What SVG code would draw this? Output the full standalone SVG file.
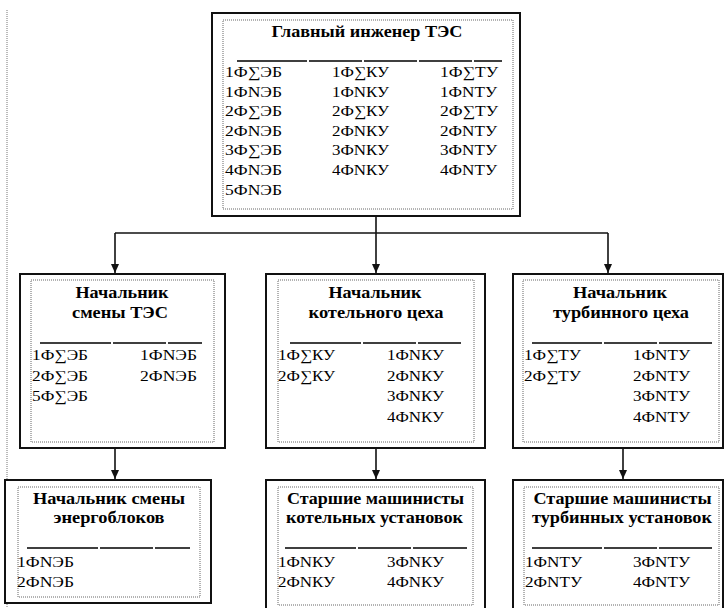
<svg xmlns="http://www.w3.org/2000/svg" width="727" height="608" viewBox="0 0 727 608" font-family="'Liberation Serif', 'Times New Roman', Times, serif">
<defs>
<style>
.box{fill:#fff;stroke:#111;stroke-width:2}
.inner{fill:none;stroke:#666;stroke-width:1;stroke-dasharray:1 1}
.t{font-weight:bold;font-size:16px;text-anchor:middle;fill:#000}
.d{font-size:15px;fill:#000}
.sep{fill:none;stroke:#000;stroke-width:1.3}
.conn{fill:none;stroke:#111;stroke-width:1.6}
.guide{fill:none;stroke:#777;stroke-width:1;stroke-dasharray:1 1}
</style>
<marker id="arr" markerUnits="userSpaceOnUse" markerWidth="10" markerHeight="10" refX="9" refY="5" orient="auto">
<path d="M0,1 L9,5 L0,9 Z" fill="#111"/>
</marker>
</defs>
<rect width="727" height="608" fill="#fff"/>
<line class="guide" x1="7" y1="10" x2="7" y2="608"/>

<g id="connectors">
<path class="conn" d="M376,216 V273" marker-end="url(#arr)"/>
<path class="conn" d="M115,233 H608"/>
<path class="conn" d="M115,233 V273" marker-end="url(#arr)"/>
<path class="conn" d="M608,233 V273" marker-end="url(#arr)"/>
<path class="conn" d="M115,448 V479" marker-end="url(#arr)"/>
<path class="conn" d="M376,448 V479" marker-end="url(#arr)"/>
<path class="conn" d="M623,448 V479" marker-end="url(#arr)"/>
</g>

<g id="chief">
<rect class="box" x="212" y="13" width="308" height="203"/>
<rect class="inner" x="223" y="20" width="290" height="189"/>
<text class="t" x="367" y="37" textLength="191" lengthAdjust="spacingAndGlyphs">Главный инженер ТЭС</text>
<path class="sep" d="M237,61 H307 M309,61 H362 M364,61 H417 M419,61 H472 M474,61 H502"/>
<g class="d">
<text x="225" y="77" textLength="57" lengthAdjust="spacingAndGlyphs">1Ф∑ЭБ</text>
<text x="225" y="97" textLength="57" lengthAdjust="spacingAndGlyphs">1ФNЭБ</text>
<text x="225" y="116" textLength="57" lengthAdjust="spacingAndGlyphs">2Ф∑ЭБ</text>
<text x="225" y="136" textLength="57" lengthAdjust="spacingAndGlyphs">2ФNЭБ</text>
<text x="225" y="155" textLength="57" lengthAdjust="spacingAndGlyphs">3Ф∑ЭБ</text>
<text x="225" y="175" textLength="57" lengthAdjust="spacingAndGlyphs">4ФNЭБ</text>
<text x="225" y="195" textLength="57" lengthAdjust="spacingAndGlyphs">5ФNЭБ</text>
<text x="332" y="77" textLength="57" lengthAdjust="spacingAndGlyphs">1Ф∑КУ</text>
<text x="332" y="97" textLength="57" lengthAdjust="spacingAndGlyphs">1ФNКУ</text>
<text x="332" y="116" textLength="57" lengthAdjust="spacingAndGlyphs">2Ф∑КУ</text>
<text x="332" y="136" textLength="57" lengthAdjust="spacingAndGlyphs">2ФNКУ</text>
<text x="332" y="155" textLength="57" lengthAdjust="spacingAndGlyphs">3ФNКУ</text>
<text x="332" y="175" textLength="57" lengthAdjust="spacingAndGlyphs">4ФNКУ</text>
<text x="440" y="77" textLength="58" lengthAdjust="spacingAndGlyphs">1Ф∑ТУ</text>
<text x="440" y="97" textLength="57" lengthAdjust="spacingAndGlyphs">1ФNТУ</text>
<text x="440" y="116" textLength="58" lengthAdjust="spacingAndGlyphs">2Ф∑ТУ</text>
<text x="440" y="136" textLength="57" lengthAdjust="spacingAndGlyphs">2ФNТУ</text>
<text x="440" y="155" textLength="57" lengthAdjust="spacingAndGlyphs">3ФNТУ</text>
<text x="440" y="175" textLength="57" lengthAdjust="spacingAndGlyphs">4ФNТУ</text>
</g>
</g>

<g id="shift-chief">
<rect class="box" x="20" y="274" width="205" height="174"/>
<rect class="inner" x="31" y="280" width="183" height="162"/>
<text class="t" x="122" y="298" textLength="93" lengthAdjust="spacingAndGlyphs">Начальник</text>
<text class="t" x="120" y="318" textLength="96" lengthAdjust="spacingAndGlyphs">смены ТЭС</text>
<path class="sep" d="M40,343 H111 M113,343 H166 M168,343 H202"/>
<g class="d">
<text x="32" y="360" textLength="56" lengthAdjust="spacingAndGlyphs">1Ф∑ЭБ</text>
<text x="32" y="381" textLength="56" lengthAdjust="spacingAndGlyphs">2Ф∑ЭБ</text>
<text x="32" y="401" textLength="56" lengthAdjust="spacingAndGlyphs">5Ф∑ЭБ</text>
<text x="140" y="360" textLength="57" lengthAdjust="spacingAndGlyphs">1ФNЭБ</text>
<text x="140" y="381" textLength="57" lengthAdjust="spacingAndGlyphs">2ФNЭБ</text>
</g>
</g>

<g id="boiler-chief">
<rect class="box" x="266" y="274" width="219" height="174"/>
<rect class="inner" x="278" y="280" width="196" height="162"/>
<text class="t" x="375" y="298" textLength="93" lengthAdjust="spacingAndGlyphs">Начальник</text>
<text class="t" x="376" y="318" textLength="135" lengthAdjust="spacingAndGlyphs">котельного цеха</text>
<path class="sep" d="M290,343 H361 M363,343 H416 M418,343 H461"/>
<g class="d">
<text x="278" y="360" textLength="57" lengthAdjust="spacingAndGlyphs">1Ф∑КУ</text>
<text x="278" y="381" textLength="57" lengthAdjust="spacingAndGlyphs">2Ф∑КУ</text>
<text x="387" y="360" textLength="57" lengthAdjust="spacingAndGlyphs">1ФNКУ</text>
<text x="387" y="381" textLength="57" lengthAdjust="spacingAndGlyphs">2ФNКУ</text>
<text x="387" y="401" textLength="57" lengthAdjust="spacingAndGlyphs">3ФNКУ</text>
<text x="387" y="422" textLength="57" lengthAdjust="spacingAndGlyphs">4ФNКУ</text>
</g>
</g>

<g id="turbine-chief">
<rect class="box" x="513" y="274" width="210" height="174"/>
<rect class="inner" x="523" y="280" width="196" height="162"/>
<text class="t" x="620" y="298" textLength="94" lengthAdjust="spacingAndGlyphs">Начальник</text>
<text class="t" x="621" y="318" textLength="136" lengthAdjust="spacingAndGlyphs">турбинного цеха</text>
<path class="sep" d="M532,343 H602 M604,343 H657 M659,343 H712"/>
<g class="d">
<text x="524" y="360" textLength="57" lengthAdjust="spacingAndGlyphs">1Ф∑ТУ</text>
<text x="524" y="381" textLength="57" lengthAdjust="spacingAndGlyphs">2Ф∑ТУ</text>
<text x="633" y="360" textLength="57" lengthAdjust="spacingAndGlyphs">1ФNТУ</text>
<text x="633" y="381" textLength="57" lengthAdjust="spacingAndGlyphs">2ФNТУ</text>
<text x="633" y="401" textLength="57" lengthAdjust="spacingAndGlyphs">3ФNТУ</text>
<text x="633" y="422" textLength="57" lengthAdjust="spacingAndGlyphs">4ФNТУ</text>
</g>
</g>

<g id="unit-shift-chief">
<rect class="box" x="5" y="480" width="206" height="123"/>
<rect class="inner" x="18" y="487" width="182" height="110"/>
<text class="t" x="109" y="504" textLength="152" lengthAdjust="spacingAndGlyphs">Начальник смены</text>
<text class="t" x="109" y="523" textLength="111" lengthAdjust="spacingAndGlyphs">энергоблоков</text>
<path class="sep" d="M27,548 H98 M100,548 H153 M155,548 H190"/>
<g class="d">
<text x="17" y="567" textLength="57" lengthAdjust="spacingAndGlyphs">1ФNЭБ</text>
<text x="17" y="587" textLength="57" lengthAdjust="spacingAndGlyphs">2ФNЭБ</text>
</g>
</g>

<g id="boiler-operators">
<rect class="box" x="266" y="480" width="219" height="134"/>
<rect class="inner" x="278" y="487" width="195" height="118"/>
<text class="t" x="375.5" y="504" textLength="177" lengthAdjust="spacingAndGlyphs">Старшие машинисты</text>
<text class="t" x="374.5" y="523" textLength="177" lengthAdjust="spacingAndGlyphs">котельных установок</text>
<path class="sep" d="M285,548 H356 M358,548 H411 M413,548 H467"/>
<g class="d">
<text x="278" y="567" textLength="57" lengthAdjust="spacingAndGlyphs">1ФNКУ</text>
<text x="278" y="587" textLength="57" lengthAdjust="spacingAndGlyphs">2ФNКУ</text>
<text x="387" y="567" textLength="57" lengthAdjust="spacingAndGlyphs">3ФNКУ</text>
<text x="387" y="587" textLength="57" lengthAdjust="spacingAndGlyphs">4ФNКУ</text>
</g>
</g>

<g id="turbine-operators">
<rect class="box" x="513" y="480" width="210" height="134"/>
<rect class="inner" x="524" y="487" width="195" height="118"/>
<text class="t" x="622.5" y="504" textLength="178" lengthAdjust="spacingAndGlyphs">Старшие машинисты</text>
<text class="t" x="622" y="523" textLength="180" lengthAdjust="spacingAndGlyphs">турбинных установок</text>
<path class="sep" d="M532,548 H602 M604,548 H657 M659,548 H712"/>
<g class="d">
<text x="525" y="567" textLength="57" lengthAdjust="spacingAndGlyphs">1ФNТУ</text>
<text x="525" y="587" textLength="57" lengthAdjust="spacingAndGlyphs">2ФNТУ</text>
<text x="633" y="567" textLength="57" lengthAdjust="spacingAndGlyphs">3ФNТУ</text>
<text x="633" y="587" textLength="57" lengthAdjust="spacingAndGlyphs">4ФNТУ</text>
</g>
</g>
</svg>
